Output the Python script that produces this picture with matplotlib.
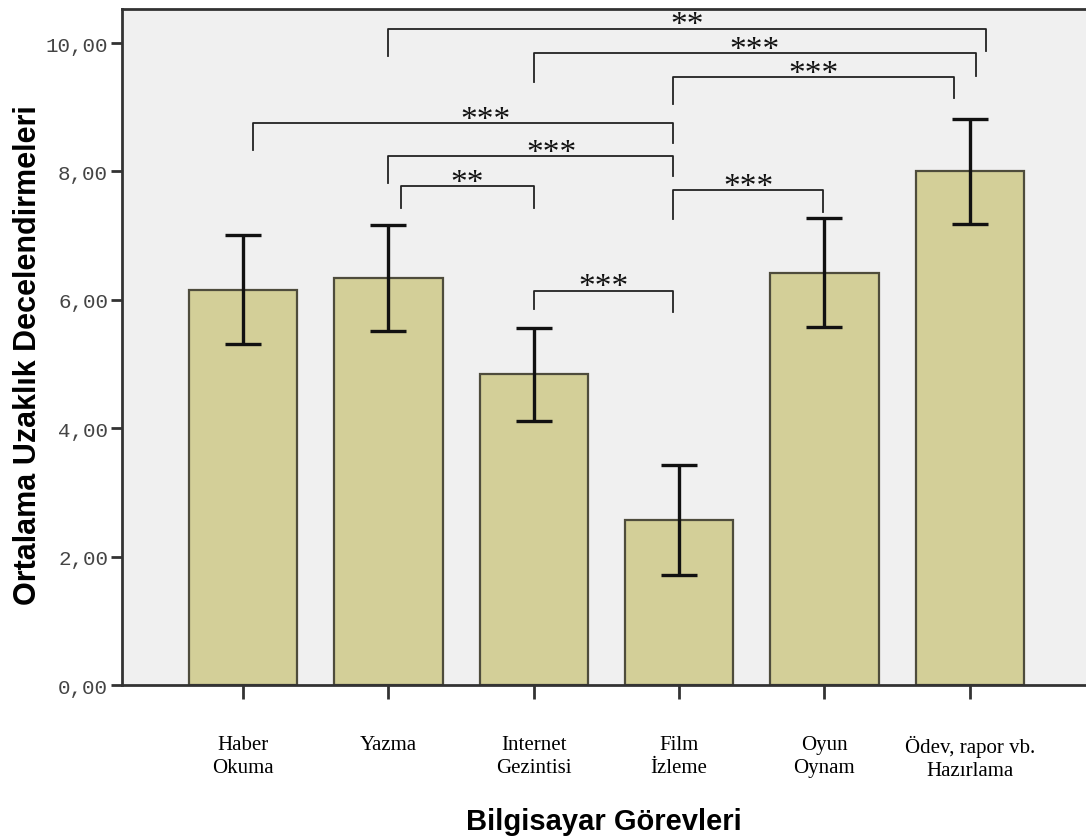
import matplotlib.pyplot as plt

# veriler
categories = ["Haber\nOkuma", "Yazma", "Internet\nGezintisi", "Film\nİzleme", "Oyun\nOynam", "Ödev, rapor vb.\nHazırlama"]
means = [6.16, 6.34, 4.84, 2.57, 6.42, 8.00]
ci_half = [0.85, 0.83, 0.72, 0.86, 0.85, 0.82]

# anlamlılık çizgileri: (sol, sağ, etiket)
pairs = [(1, 5, "**"), (2, 5, "***"), (3, 5, "***"), (0, 3, "***"),
         (1, 3, "***"), (1, 2, "**"), (3, 4, "***"), (2, 3, "***")]
pair_tops = [10.22, 9.84, 9.47, 8.75, 8.24, 7.77, 7.71, 6.14]
pair_left_ends = [9.80, 9.39, 9.05, 8.33, 7.82, 7.43, 7.26, 5.86]
pair_right_ends = [9.87, 9.49, 9.14, 8.44, 7.93, 7.43, 7.37, 5.81]
# küçük yatay kaymalar (orijinaldeki gibi)
left_nudge = [0.0, 0.0, -0.04, 0.07, 0.0, 0.09, -0.04, 0.0]
right_nudge = [0.11, 0.04, -0.11, -0.04, -0.04, 0.0, -0.01, -0.04]
label_nudge = [0.0, 0.0, 0.0, 0.15, 0.14, 0.0, 0.0, 0.0]

fig = plt.figure(figsize=(10.86, 8.37), dpi=100)
ax = fig.add_axes([0.1123, 0.1804, 0.8877, 0.8076])
ax.set_facecolor("#f0f0f0")

x = list(range(len(categories)))
ax.bar(x, means, width=0.745, color="#d3cf98", edgecolor="#4e4c3c", linewidth=1.6, zorder=2)
ax.errorbar(x, means, yerr=ci_half, fmt="none", ecolor="#111111", elinewidth=2.4,
            capsize=13, capthick=2.4, zorder=3)

for k, (i, j, lab) in enumerate(pairs):
    xl = i + left_nudge[k]
    xr = j + right_nudge[k]
    top = pair_tops[k]
    ax.plot([xl, xl, xr, xr], [pair_left_ends[k], top, top, pair_right_ends[k]],
            color="#222222", lw=1.3, zorder=3)
    ax.text((xl + xr) / 2 + label_nudge[k], top - 0.07, lab, ha="center", va="baseline",
            fontsize=24, family="Liberation Serif", color="#111111")

ax.set_xlim(-0.833, 5.80)
ax.set_ylim(0, 10.53)
ax.set_yticks([0, 2, 4, 6, 8, 10])
ax.set_yticklabels(["0,00", "2,00", "4,00", "6,00", "8,00", "10,00"],
                   family="Liberation Mono", fontsize=15, color="#444444")
ax.set_xticks(x)
ax.set_xticklabels(categories, family="Liberation Serif", fontsize=15, linespacing=1.25, va="top")
ax.tick_params(axis="y", length=8, width=2, color="#333333", pad=2)
ax.tick_params(axis="x", length=10, width=2, color="#333333", pad=26)

for s in ["left", "bottom", "top"]:
    ax.spines[s].set_linewidth(2)
    ax.spines[s].set_color("#333333")
ax.spines["right"].set_visible(False)

ax.set_ylabel("Ortalama Uzaklık Decelendirmeleri", family="Liberation Sans", fontweight="bold",
              fontsize=22)
ax.yaxis.set_label_coords(-0.082, 0.49)
ax.set_xlabel("Bilgisayar Görevleri", family="Liberation Sans", fontweight="bold",
              fontsize=21, labelpad=20)

fig.savefig("out.png", dpi=100)
